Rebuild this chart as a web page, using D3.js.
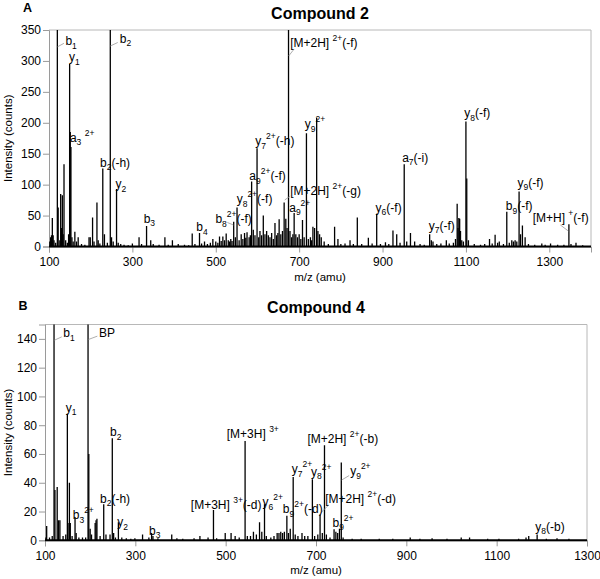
<!DOCTYPE html>
<html><head><meta charset="utf-8">
<script src="https://cdn.jsdelivr.net/npm/d3@7"></script>
<style>
body{margin:0;background:#fff}
svg{display:block}
text{font-family:"Liberation Sans",Arial,sans-serif;fill:#000}
</style>
</head><body>
<svg id="chart" width="600" height="579"></svg>
<script>
// ---------- DATA ----------
// Compound 2 (panel A): m/z and intensity of peaks
const mzA = [102,104,106,108,110,112,116,120,122,126,128,130,132,134,136,140,144,147,149.5,151,152.6,155,158,162,166,170,178,186,196,199,204.5,208,215,218,222,229,233,240,247,250,254,262,266,272,280,290,300,316,322,334,344,350,364,378,386,396,410,425,435,443.5,450,461,466,473,480,487,493,500,505,509,513,517,521,525,530,533,536,539,543,547,551,556,561,565,569,572,575,580,583,586,590,594,599,603,606,610,614,618,622,626,630,634,638,642,646,649,652,656,660,664,668,671,674.5,678,682,685,688,692,696,700,704,708,712,717.5,722,727,730,733,737,742,745,749,753,760,770,785,793,800,810,822,830,839.5,850,866,875,886,895,907,915,925,934,942,952,958,967,977,990,1000,1013,1017,1021,1030,1040,1053,1060,1070,1075,1079,1081,1083,1085,1087,1090,1094,1100,1102,1106,1120,1135,1145,1156.6,1163,1170,1176,1180,1190,1198,1204,1210,1214,1218,1222,1227.5,1231,1235.5,1242,1250,1265,1282,1290,1303,1320,1335,1347,1352,1364,1380];
const intA = [8,15,18,46,18,10,6,420,63,10,85,30,83,20,133,10,6,20,295,185,161,15,8,24,8,15,4,3,15,15,47,8,71,10,5,126,20,6,420,15,8,93,6,4,3,2,5,15,4,33,10,4,3,15,3,10,4,3,2,21,4,22,5,8,4,6,12,8,6,16,9,16,10,21,10,8,12,9,40,15,63,10,20,12,22,14,23,15,18,105,27,18,159,15,25,18,50,20,25,18,15,22,12,38,18,22,44,20,25,71,45,30,420,25,15,20,54,20,15,20,12,43,15,183,12,15,10,32,30,208,25,20,15,8,4,32,12,4,5,10,4,47,4,14,5,53,4,7,4,26,20,6,133,8,22,8,4,3,20,10,8,4,5,10,5,6,12,69,30,46,45,25,10,8,202,110,10,4,3,4,12,5,19,6,8,4,56,6,10,8,10,8,89,20,34,15,4,3,5,3,5,3,3,36,4,6,2];

// Compound 4 (panel B)
const mzB = [102,103.7,110,116,120,122,127,130,133,140,146,149.5,151,154,156,160,166.5,169,175,183,190,195.3,197,200,203,211,213,215,222,230,235,244,249,252,256,262.5,270,280,290,299,316,330,336,339,350,380.6,392,405,430,443,461,473,480,499,512,521,530,543,548,555,561.5,568,575,580,586,590,600,607,614,618,622,626,630,635.5,639,643,649.5,654,660,669,675,682,692,697,704,709,714,718.8,723,731,740,744,748,752,756,760,780,800,840,870,908.6,930,957,990,1021.5,1040,1080,1105,1148.6,1165,1171,1189.6,1210,1233.6,1260];
const intB = [2,10,2,3,300,35,37,14,14,3,4,88,12,40,12,3,16,5,2,2,2,300,60,8,4,12,14,15,3,25,4,4,71,5,2,12.5,2,1.5,1,1.5,4,2,5,3,1.5,4,1.5,1,1.5,3,2,21,1.5,5,5,3,2,69,3,3,6,4,12.5,6,25,3,2,3,5,5,6,5,6,17,5,8,44,4,3,5,3,3,42.5,3,4,18,5,66,4,2,7.6,6,5,8,54,2,1,1,1,1,2,1,1.5,1,2,2,1,1,1,2,3,4,1,1.5,1];

// Tick values
const xTicksA = [100,300,500,700,900,1100,1300];
const yTicksA = [0,50,100,150,200,250,300,350];
const xTicksB = [100,300,500,700,900,1100,1300];
const yTicksB = [0,20,40,60,80,100,120,140];

// Peak annotations (text, anchored at m/z and intensity)
const labelsA = [
  {t:"b_{1}", mz:139.4, i:325},
  {t:"b_{2}", mz:269.7, i:329},
  {t:"y_{1}", mz:147.8, i:299.5},
  {t:"a_{3} ^{2+}", mz:150.2, i:169.4},
  {t:"b_{2}(-h)", mz:222.3, i:129},
  {t:"y_{2}", mz:259.4, i:94},
  {t:"b_{3}", mz:327.1, i:38.5},
  {t:"b_{4}", mz:453.1, i:25},
  {t:"b_{8}^{2+}(-f)", mz:499.2, i:37.5},
  {t:"y_{8}^{2+}(-f)", mz:550.1, i:70},
  {t:"a_{9}^{2+}(-f)", mz:580.5, i:107.5},
  {t:"y_{7}^{2+}(-h)", mz:594.8, i:164},
  {t:"[M+2H] ^{2+}(-f)", mz:678.5, i:323},
  {t:"[M+2H] ^{2+}(-g)", mz:678.5, i:83.3},
  {t:"a_{9}^{2+}", mz:676.1, i:56.3},
  {t:"y_{9}^{2+}", mz:713.6, i:191},
  {t:"y_{6}(-f)", mz:883.4, i:56.3},
  {t:"a_{7}(-i)", mz:947, i:137},
  {t:"y_{7}(-f)", mz:1010.8, i:26.7},
  {t:"y_{8}(-f)", mz:1096.1, i:209},
  {t:"b_{9}(-f)", mz:1195.6, i:59},
  {t:"y_{9}(-f)", mz:1223.5, i:96.7},
  {t:"[M+H] ^{+}(-f)", mz:1260.1, i:40}
];
const leadersA = [
  {mz1:120.3, i1:322.8, mz2:135.9, i2:328.5},
  {mz1:247, i1:324.1, mz2:264.9, i2:329.8},
  {mz1:674.9, i1:308, mz2:688, i2:319.3},
  {mz1:665.4, i1:75.2, mz2:678.5, i2:81.6},
  {mz1:1326.5, i1:34.8, mz2:1345.5, i2:25.1},
  {mz1:527.9, i1:38.8, mz2:542.2, i2:34.8}
];
const labelsB = [
  {t:"b_{1}", mz:140.5, i:141},
  {t:"BP", mz:219.6, i:141},
  {t:"y_{1}", mz:145.9, i:89.3},
  {t:"b_{2}", mz:244, i:72.4},
  {t:"b_{3}^{2+}", mz:161.4, i:14.6},
  {t:"b_{2}(-h)", mz:221.8, i:26.1},
  {t:"y_{2}", mz:260.2, i:9.9},
  {t:"b_{3}", mz:330.4, i:3.7},
  {t:"[M+3H] ^{3+}", mz:502.5, i:70.8},
  {t:"[M+3H] ^{3+}(-d)", mz:422.8, i:22.1},
  {t:"y_{6}^{2+}", mz:581.4, i:23.8},
  {t:"b_{9}^{2+}(-d)", mz:626.6, i:18.75},
  {t:"y_{7}^{2+}", mz:646.5, i:46.5},
  {t:"y_{8}^{2+}", mz:689, i:45},
  {t:"[M+2H] ^{2+}(-b)", mz:681, i:67.4},
  {t:"y_{9}^{2+}", mz:775.6, i:45.3},
  {t:"[M+2H] ^{2+}(-d)", mz:720.3, i:26.1},
  {t:"b_{9}^{2+}", mz:736.4, i:9.4},
  {t:"y_{8}(-b)", mz:1185.5, i:6.7}
];
const leadersB = [
  {mz1:121, i1:139.1, mz2:137, i2:141.4},
  {mz1:196.4, i1:139.6, mz2:215.9, i2:141.9},
  {mz1:710.3, i1:19, mz2:728, i2:24.5},
  {mz1:756.8, i1:41.9, mz2:773.4, i2:45}
];

// ---------- LAYOUT ----------
const panels = [
  {letter:"A", title:"Compound 2", mz:mzA, it:intA, xTicks:xTicksA, yTicks:yTicksA,
   labels:labelsA, leaders:leadersA,
   left:49, right:591, top:30, bottom:246.5, xDom:[100,1400], yDom:[0,350],
   letterX:23, letterY:11.7, titleY:18.5},
  {letter:"B", title:"Compound 4", mz:mzB, it:intB, xTicks:xTicksB, yTicks:yTicksB,
   labels:labelsB, leaders:leadersB,
   left:45, right:587, top:324.5, bottom:540.3, xDom:[100,1300], yDom:[0,150],
   letterX:18.5, letterY:310, titleY:313.3}
];

const svg = d3.select("#chart");
const axisGray = "#9a9a9a";

function addRich(sel, str, fs, sfs) {
  // parse _{..} and ^{..}
  const re = /(_\{[^}]*\}|\^\{[^}]*\})/g;
  const parts = str.split(re).filter(s => s.length);
  let cur = 0;
  parts.forEach(p => {
    let txt = p, shift = 0, size = fs;
    if (p.startsWith("_{")) { txt = p.slice(2,-1); shift = 3.5; size = sfs; }
    else if (p.startsWith("^{")) { txt = p.slice(2,-1); shift = -6; size = sfs; }
    sel.append("tspan").attr("dy", shift - cur).attr("font-size", size).text(txt);
    cur = shift;
  });
}

panels.forEach((P, idx) => {
  const x = d3.scaleLinear().domain(P.xDom).range([P.left, P.right]);
  const y = d3.scaleLinear().domain(P.yDom).range([P.bottom, P.top]);
  const g = svg.append("g");

  const clipId = "clip" + idx;
  svg.append("clipPath").attr("id", clipId).append("rect")
    .attr("x", P.left).attr("y", P.top).attr("width", P.right - P.left).attr("height", P.bottom - P.top);

  // frame (top, right)
  g.append("line").attr("x1", P.left).attr("x2", P.right).attr("y1", P.top).attr("y2", P.top)
    .attr("stroke", "#b8b8b8").attr("stroke-width", 1);
  g.append("line").attr("x1", P.right).attr("x2", P.right).attr("y1", P.top).attr("y2", P.bottom)
    .attr("stroke", "#b8b8b8").attr("stroke-width", 1);

  // axes
  const ax = g.append("g").attr("transform", `translate(0,${P.bottom})`)
    .call(d3.axisBottom(x).tickValues(P.xTicks).tickSize(6).tickPadding(5).tickFormat(d3.format("d")));
  ax.select(".domain").attr("stroke", axisGray);
  ax.selectAll(".tick line").attr("stroke", axisGray);
  ax.selectAll(".tick text").attr("font-size", 12).attr("font-family", "Liberation Sans, Arial, sans-serif");

  const ay = g.append("g").attr("transform", `translate(${P.left},0)`)
    .call(d3.axisLeft(y).tickValues(P.yTicks).tickSize(6).tickPadding(2));
  ay.select(".domain").attr("stroke", axisGray);
  ay.selectAll(".tick line").attr("stroke", axisGray);
  ay.selectAll(".tick text").attr("font-size", 12).attr("font-family", "Liberation Sans, Arial, sans-serif");

  // peaks
  const data = P.mz.map((m, i) => ({m, v: P.it[i]}));
  g.append("g").attr("clip-path", `url(#${clipId})`)
    .selectAll("line").data(data).join("line")
    .attr("x1", d => x(d.m)).attr("x2", d => x(d.m))
    .attr("y1", y(0)).attr("y2", d => y(d.v))
    .attr("stroke", "#000").attr("stroke-width", 1.3);

  // baseline
  g.append("line").attr("x1", P.left).attr("x2", P.right).attr("y1", y(0)).attr("y2", y(0))
    .attr("stroke", "#000").attr("stroke-width", 2);

  // leaders
  g.selectAll(".leader").data(P.leaders).join("line").attr("class", "leader")
    .attr("x1", d => x(d.mz1)).attr("y1", d => y(d.i1))
    .attr("x2", d => x(d.mz2)).attr("y2", d => y(d.i2))
    .attr("stroke", "#999").attr("stroke-width", 0.8);

  // labels
  P.labels.forEach(L => {
    const t = g.append("text").attr("x", x(L.mz)).attr("y", y(L.i)).attr("font-size", 12);
    addRich(t, L.t, 12, 8.5);
  });

  // axis titles
  g.append("text").attr("x", (P.left + P.right) / 2).attr("y", P.bottom + 34)
    .attr("text-anchor", "middle").attr("font-size", 11.5).text("m/z (amu)");
  g.append("text").attr("transform", `translate(11.5,${(P.top + P.bottom) / 2}) rotate(-90)`)
    .attr("text-anchor", "middle").attr("font-size", 11.5).text("Intensity (counts)");

  // title and letter
  g.append("text").attr("x", (P.left + P.right) / 2).attr("y", P.titleY)
    .attr("text-anchor", "middle").attr("font-size", 16).attr("font-weight", "bold").text(P.title);
  g.append("text").attr("x", P.letterX).attr("y", P.letterY)
    .attr("font-size", 12.5).attr("font-weight", "bold").text(P.letter);
});
</script>
</body></html>
